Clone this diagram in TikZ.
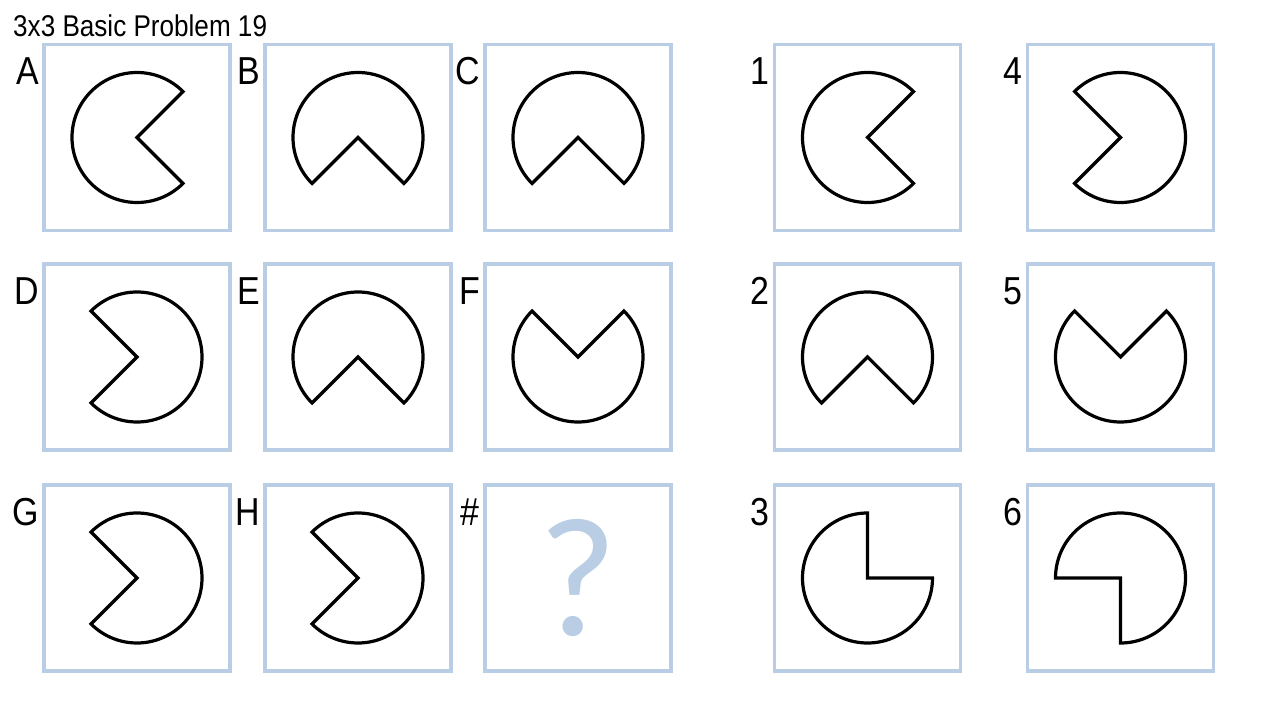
\documentclass[tikz,border=0pt]{standalone}
\usepackage{fontspec}
\setmainfont{Liberation Sans}
\newfontfamily\labfont[FakeStretch=0.87]{Liberation Sans}
\newfontfamily\qfont{Carlito}
\definecolor{boxblue}{RGB}{185,205,229}
\tikzset{
  panel/.style={draw=boxblue, line width=3.5pt, minimum size=186pt, inner sep=0pt, outer sep=0pt},
  pac/.style={draw=black, line width=3.2pt, line join=miter},
  lbl/.style={font=\labfont\fontsize{39}{39}\selectfont, inner sep=0pt, anchor=base east},
}
\newcommand\pacman[2]{\draw[pac] (#1.center) -- ++(#2+45:65) arc[start angle=#2+45, delta angle=270, radius=65] -- cycle;}
\begin{document}
\begin{tikzpicture}[x=1pt,y=1pt]
\useasboundingbox (0,0) rectangle (1280,720);
\node[font=\labfont\fontsize{30}{30}\selectfont, inner sep=0pt, anchor=base west] (title) at (13,683) {3x3 Basic Problem 19};
% panels
\node[panel] (A) at (137,582.5) {};
\node[panel] (B) at (358,582.5) {};
\node[panel] (C) at (578,582.5) {};
\node[panel] (D) at (137,363) {};
\node[panel] (E) at (358,363) {};
\node[panel] (F) at (578,363) {};
\node[panel] (G) at (137,142) {};
\node[panel] (H) at (358,142) {};
\node[panel] (Q) at (578,142) {};
\node[panel] (O1) at (867.5,582.5) {};
\node[panel] (O2) at (867.5,363) {};
\node[panel] (O3) at (867.5,142) {};
\node[panel] (O4) at (1120.5,582.5) {};
\node[panel] (O5) at (1120.5,363) {};
\node[panel] (O6) at (1120.5,142) {};
% labels
\foreach \n/\t in {A/A,B/B,C/C,D/D,E/E,F/F,G/G,H/H,Q/\#,O1/1,O2/2,O3/3,O4/4,O5/5,O6/6}
  \node[lbl] (l\n) at ([xshift=-5pt,yshift=-40.5pt]\n.north west) {\t};
% shapes
\pacman{A}{0}
\pacman{B}{270}
\pacman{C}{270}
\pacman{D}{180}
\pacman{E}{270}
\pacman{F}{90}
\pacman{G}{180}
\pacman{H}{180}
\pacman{O1}{0}
\pacman{O2}{270}
\pacman{O3}{45}
\pacman{O4}{180}
\pacman{O5}{90}
\pacman{O6}{225}
\node[font=\qfont\fontsize{170}{170}\selectfont, text=boxblue, inner sep=0pt] (qm) at (Q.center) {?};
\end{tikzpicture}
\end{document}
